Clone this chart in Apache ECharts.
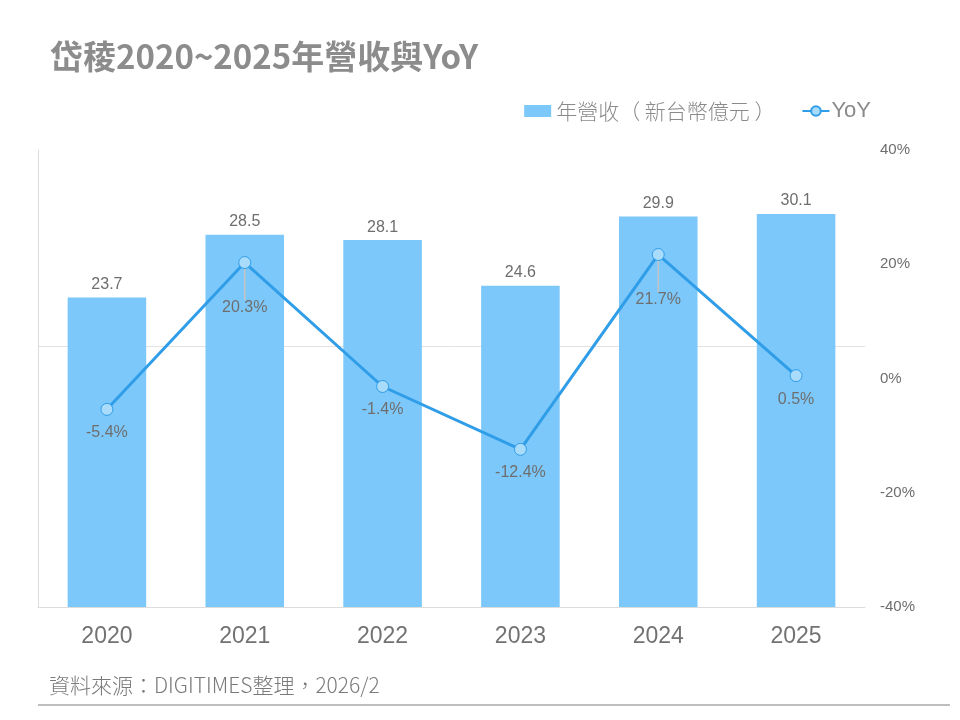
<!DOCTYPE html>
<html>
	<head>
		<meta charset="utf-8">
		<title>岱稜2020~2025年營收與YoY</title>
		<script type="text/javascript" src="https://cdn.jsdelivr.net/npm/echarts@6/dist/echarts.min.js"></script>
		<style>
			html, body { margin: 0; padding: 0; background: #fff; }
			#chart { width: 960px; height: 720px; }
		</style>
	</head>
	<body>
		<div id="chart"></div>
		<script type="text/javascript">
			var years = ['2020', '2021', '2022', '2023', '2024', '2025'];
			var revenue = [23.7, 28.5, 28.1, 24.6, 29.9, 30.1]; // 新台幣億元
			var yoy = [-5.4, 20.3, -1.4, -12.4, 21.7, 0.5]; // %
			var movedLabels = [1, 4]; // 這兩點的標籤往下移，帶引線

			var fontFam = '"Liberation Sans", Arial, "Noto Sans CJK TC", sans-serif';
			var cjkFam = '"Noto Sans CJK TC", sans-serif';
			var gray = '#6e6e6e';

			// 折線資料：被移動的標籤才顯示引線
			var yoyData = [];
			for (var i = 0; i < yoy.length; i++) {
				yoyData.push({
					value: yoy[i],
					labelLine: { show: movedLabels.indexOf(i) >= 0 }
				});
			}

			var myChart = echarts.init(document.getElementById('chart'));
			var option = {
				backgroundColor: '#fff',
				textStyle: { fontFamily: fontFam },
				title: {
					text: '岱稜2020~2025年營收與YoY',
					left: 45,
					top: 35,
					textStyle: {
						fontFamily: cjkFam,
						fontSize: 33,
						fontWeight: 'bold',
						color: '#8c8c8c'
					}
				},
				legend: {
					right: 84,
					top: 95,
					itemGap: 26,
					itemWidth: 27,
					itemHeight: 12,
					textStyle: {
						fontFamily: cjkFam,
						fontSize: 21,
						fontWeight: 300,
						color: '#8a8a8a',
						padding: [0, 0, 0, 0]
					},
					data: [
						{ name: '年營收（ 新台幣億元 ）', icon: 'rect' },
						{ name: 'YoY', textStyle: { fontSize: 22, fontFamily: fontFam, padding: [0, 0, 0, -3] } }
					]
				},
				grid: {
					left: 38,
					right: 95,
					top: 150,
					bottom: 113,
					containLabel: false
				},
				xAxis: {
					type: 'category',
					data: years,
					axisLine: { lineStyle: { color: '#dcdcdc', width: 1 } },
					axisTick: { show: false },
					axisLabel: {
						fontSize: 23,
						color: '#727272',
						margin: 18
					}
				},
				yAxis: [{
					type: 'value',
					min: 0,
					max: 35,
					interval: 20,
					axisLine: { show: true, lineStyle: { color: '#dcdcdc' } },
					axisTick: { show: false },
					axisLabel: { show: false },
					splitLine: {
						show: true,
						lineStyle: { color: ['#e2e2e2', '#e2e2e2', 'rgba(0,0,0,0)'] }
					}
				}, {
					type: 'value',
					min: -40,
					max: 40,
					interval: 20,
					position: 'right',
					axisLine: { show: false },
					axisTick: { show: false },
					splitLine: { show: false },
					axisLabel: {
						formatter: '{value}%',
						fontSize: 15,
						color: gray,
						margin: 15
					}
				}],
				series: [{
					name: '年營收（ 新台幣億元 ）',
					type: 'bar',
					data: revenue,
					barWidth: '57%',
					itemStyle: { color: '#7dc8fa' },
					label: {
						show: true,
						position: 'top',
						distance: 5,
						fontSize: 16,
						color: gray
					},
					z: 2
				}, {
					name: 'YoY',
					type: 'line',
					yAxisIndex: 1,
					data: yoyData,
					symbol: 'circle',
					symbolSize: 12,
					lineStyle: { color: '#2f9de8', width: 3 },
					itemStyle: { color: '#a9dbfb', borderColor: '#2f9de8', borderWidth: 1 },
					label: {
						show: true,
						position: 'bottom',
						distance: 9,
						fontSize: 16,
						color: gray,
						formatter: '{c}%'
					},
					labelLine: { show: false, lineStyle: { color: '#c4c4c4', width: 1.5 } },
					labelLayout: function(params) {
						if (movedLabels.indexOf(params.dataIndex) >= 0) {
							return { dy: 22 };
						}
						return {};
					},
					z: 3
				}],
				graphic: [{
					type: 'text',
					left: 49,
					top: 675,
					style: {
						text: '資料來源：DIGITIMES整理，2026/2',
						font: '300 21px "Noto Sans CJK TC", sans-serif',
						fill: '#7a7a7a'
					}
				}, {
					type: 'line',
					shape: { x1: 38, y1: 705, x2: 950, y2: 705 },
					style: { stroke: '#a8a8a8', lineWidth: 1.5 }
				}]
			};

			myChart.setOption(option);
		</script>
	</body>
</html>
